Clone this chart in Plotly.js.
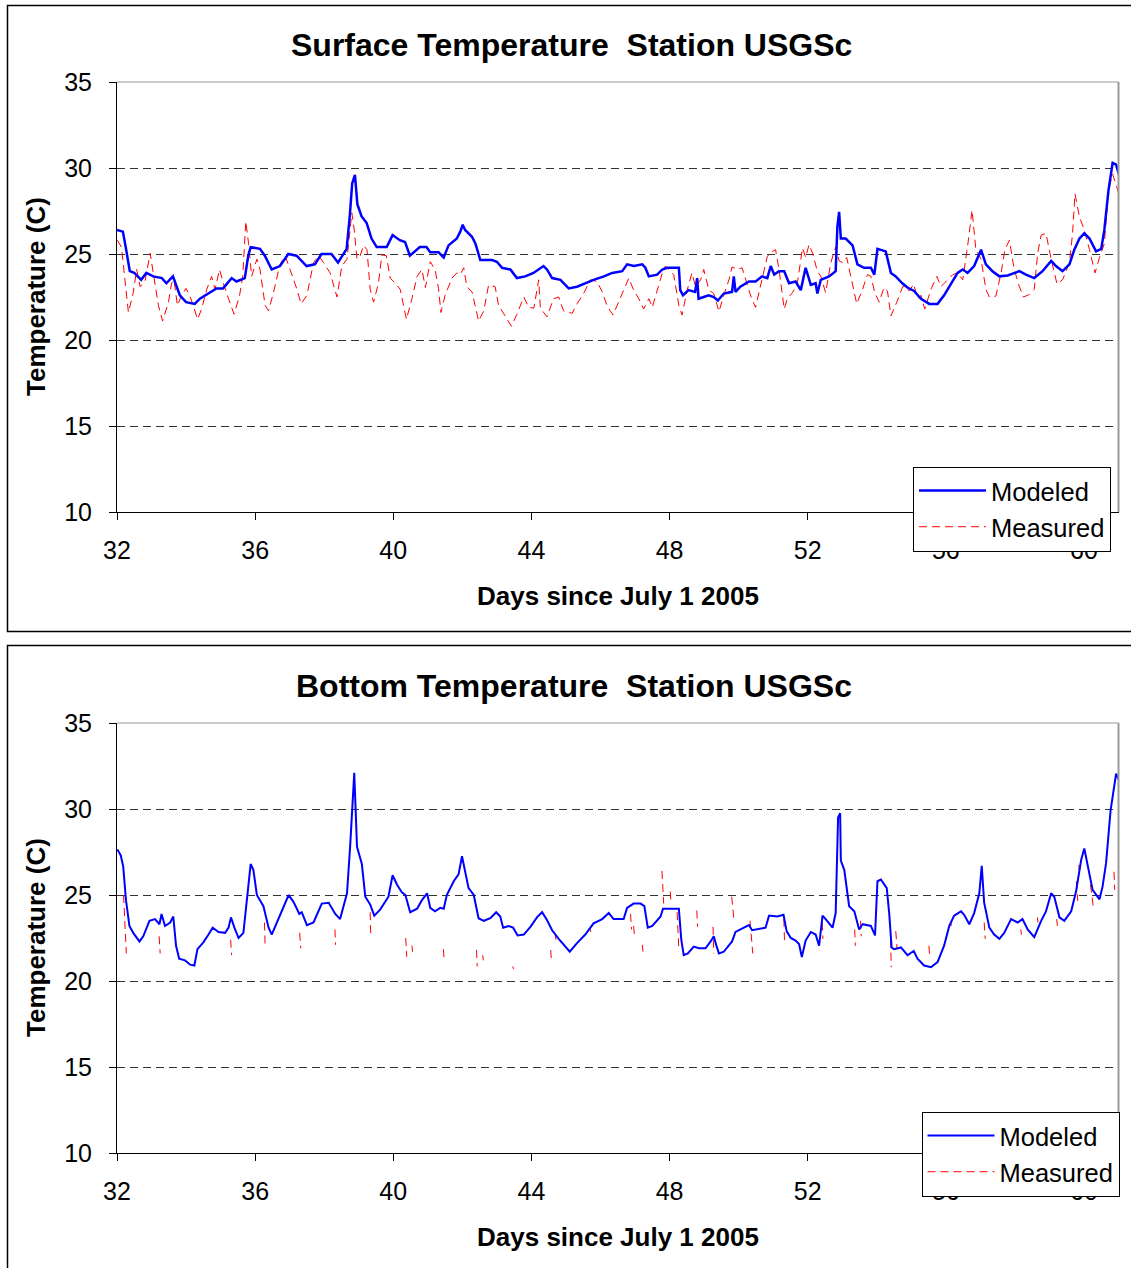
<!DOCTYPE html>
<html><head><meta charset="utf-8">
<script src="https://cdn.plot.ly/plotly-3.0.1.min.js"></script>
<style>html,body{margin:0;padding:0;background:#fff}#chart{width:1131px;height:1268px}</style>
</head><body><div id="chart"></div>
<script>
// ---------------- data ----------------
const xTickVals = [32, 36, 40, 44, 48, 52, 56, 60];
const xTickText = ['32', '36', '40', '44', '48', '52', '56', '60'];
const yTickVals = [10, 15, 20, 25, 30, 35];
const yTickText = ['10', '15', '20', '25', '30', '35'];
const seriesNames = ['Modeled', 'Measured'];

// Surface, modeled
const surfModDays = [32,32.17,32.27,32.37,32.5,32.7,32.85,33.05,33.3,33.43,33.62,33.82,34.0,34.25,34.4,34.7,34.88,35.07,35.32,35.46,35.7,35.8,35.87,36.14,36.28,36.48,36.72,36.96,37.2,37.49,37.73,37.92,38.21,38.4,38.65,38.74,38.81,38.89,38.96,39.08,39.23,39.37,39.52,39.81,39.98,40.19,40.34,40.48,40.77,40.96,
41.07,41.31,41.46,41.6,41.84,41.94,42.01,42.08,42.28,42.38,42.52,42.86,43.0,43.15,43.39,43.58,43.82,44.06,44.26,44.35,44.45,44.6,44.84,45.08,45.32,45.56,45.8,46.1,46.34,46.63,46.77,46.97,47.21,47.3,47.4,47.64,47.79,47.93,48.27,48.31,48.39,48.55,48.74,48.8,48.84,48.99,49.13,49.28,49.4,49.57,49.81,49.86,49.91,50.05,50.3,50.49,50.68,50.83,
50.93,51.03,51.17,51.32,51.46,51.65,51.8,51.94,52.09,52.23,52.28,52.38,52.62,52.81,52.86,52.91,52.96,53.1,53.3,53.44,53.63,53.83,53.93,54.02,54.26,54.41,54.55,54.74,54.89,55.08,55.28,55.52,55.76,55.95,56.15,56.34,56.49,56.63,56.82,57.02,57.16,57.35,57.55,57.79,58.13,58.32,58.56,58.8,59.05,59.19,59.38,59.58,59.72,59.87,60.01,60.16,60.35,60.5,60.59,60.71,60.83,60.93,61.03];
const surfModeled = [26.4,26.3,25.2,24.0,23.9,23.5,23.9,23.7,23.6,23.3,23.7,22.6,22.2,22.1,22.4,22.8,23.0,23.0,23.6,23.4,23.6,24.9,25.4,25.3,24.9,24.1,24.3,25.0,24.9,24.3,24.4,25.0,25.0,24.5,25.3,27.2,29.1,29.6,27.9,27.2,26.8,25.9,25.4,25.4,26.1,25.8,25.7,24.9,25.4,25.4,
25.1,25.1,24.8,25.5,25.9,26.3,26.7,26.4,26.0,25.6,24.65,24.65,24.55,24.2,24.1,23.6,23.7,23.9,24.2,24.3,24.1,23.6,23.5,23.0,23.1,23.3,23.5,23.7,23.9,24.0,24.4,24.3,24.4,24.2,23.7,23.8,24.1,24.2,24.2,22.9,22.6,22.9,22.8,23.6,22.4,22.5,22.6,22.5,22.3,22.7,22.8,23.7,22.8,23.1,23.4,23.4,23.7,23.6,
24.3,23.8,24.0,24.0,23.3,23.4,22.9,24.2,23.2,23.3,22.7,23.5,23.7,24.0,26.6,27.45,25.9,25.9,25.5,24.4,24.2,24.2,23.8,25.3,25.15,23.9,23.7,23.3,23.05,22.85,22.4,22.1,22.1,22.6,23.3,23.9,24.1,23.9,24.3,25.25,24.4,24.0,23.7,23.75,24.0,23.8,23.6,24.0,24.6,24.3,24.0,24.4,25.25,25.9,26.2,25.9,25.15,25.3,26.4,28.7,30.3,30.2,29.5];

// Surface, measured
const surfMeasDays = [32.01,32.13,32.33,32.47,32.57,32.67,32.81,32.96,33.05,33.2,33.32,33.49,33.58,33.65,33.75,33.87,34.0,34.12,34.21,34.33,34.45,34.6,34.74,34.84,34.97,35.08,35.23,35.39,35.55,35.64,35.73,35.81,35.9,36.05,36.14,36.29,36.39,36.53,36.72,36.87,37.01,37.21,37.33,37.5,37.69,37.84,37.98,38.17,38.37,38.51,38.66,38.8,38.87,38.95,39.04,39.14,39.24,39.33,39.43,39.57,39.67,39.8,39.91,40.06,40.2,40.38,40.54,40.69,40.83,40.93,
41.07,41.21,41.31,41.38,41.5,41.7,41.84,41.94,42.04,42.13,42.28,42.47,42.62,42.76,42.95,43.05,43.24,43.42,43.58,43.78,43.92,44.07,44.21,44.26,44.45,44.64,44.79,44.93,45.18,45.32,45.51,45.71,45.9,46.05,46.19,46.36,46.48,46.63,46.82,46.96,47.11,47.25,47.4,47.5,47.64,47.79,47.88,48.01,48.12,48.27,48.36,48.51,48.65,48.75,48.9,48.99,49.14,49.28,49.43,49.57,49.72,49.81,49.96,50.1,50.25,50.36,50.49,50.59,50.73,50.83,
50.93,51.07,51.17,51.32,51.41,51.56,51.7,51.85,51.94,52.04,52.14,52.28,52.38,52.52,52.67,52.81,52.91,53.01,53.13,53.25,53.42,53.59,53.73,53.83,53.95,54.07,54.21,54.31,54.41,54.58,54.75,54.84,54.94,55.07,55.18,55.28,55.39,55.57,55.74,55.86,56.0,56.2,56.34,56.49,56.63,56.76,56.87,57.02,57.16,57.26,57.45,57.6,57.71,57.84,57.98,58.13,58.25,58.42,58.56,58.66,58.76,58.9,59.05,59.22,59.38,59.58,59.67,59.74,59.87,60.01,60.16,60.32,60.45,60.59,60.71,60.83,60.98,61.08];
const surfMeasured = [25.8,25.4,21.6,22.75,24.1,23.1,23.4,25.05,23.9,22.0,21.1,22.2,23.3,23.5,22.0,22.6,23.0,22.5,22.0,21.2,21.8,22.95,23.7,22.95,24.1,23.3,22.4,21.5,22.6,23.7,26.9,25.6,23.7,24.7,24.1,22.0,21.7,22.75,24.4,24.9,24.1,22.95,22.1,22.6,24.5,24.9,24.5,23.9,22.5,24.3,24.7,27.4,26.4,24.7,24.9,25.5,25.25,22.95,22.2,23.3,24.95,24.9,23.6,23.3,22.95,21.2,22.4,23.7,24.1,23.05,
24.55,24.1,23.0,21.6,22.6,23.6,23.9,23.8,24.2,23.1,22.8,21.1,21.7,23.2,23.1,22.0,21.4,20.8,21.5,22.5,21.9,21.85,23.5,21.85,21.35,22.4,22.5,21.7,21.55,22.1,22.7,23.5,23.4,22.8,22.0,21.45,22.0,22.7,23.6,22.9,22.4,21.8,22.4,21.9,22.9,23.9,24.3,24.0,23.8,22.0,21.45,22.9,23.9,23.1,23.5,24.1,22.9,22.7,21.65,22.6,23.5,24.25,24.1,24.2,23.2,22.5,21.9,22.8,24.1,24.85,
25.1,25.25,24.1,21.8,22.4,22.75,23.3,25.35,24.8,25.55,25.05,24.0,23.7,22.75,24.5,25.4,24.6,24.5,24.8,23.6,22.1,22.95,23.8,23.7,22.7,22.2,23.05,22.85,21.4,22.2,23.1,23.1,22.85,23.25,22.4,22.6,21.8,22.95,23.7,23.1,23.4,23.8,23.9,23.5,25.45,27.55,25.25,24.7,22.95,22.5,22.55,23.9,25.25,25.8,24.1,23.1,22.5,22.65,22.95,25.05,26.1,26.2,24.7,23.25,23.5,24.5,26.2,28.5,27.15,26.4,25.25,23.9,24.8,25.6,28.7,29.65,28.7,27.75];

// Bottom, modeled
const botModDays = [32.01,32.11,32.18,32.26,32.36,32.47,32.65,32.76,32.94,33.1,33.23,33.29,33.39,33.54,33.63,33.71,33.8,33.97,34.12,34.24,34.33,34.5,34.65,34.77,34.94,35.13,35.23,35.3,35.4,35.52,35.66,35.76,35.87,35.95,36.05,36.24,36.39,36.48,36.63,36.8,36.97,37.11,37.28,37.35,37.5,37.69,37.93,38.13,38.32,38.46,38.66,38.75,38.87,38.95,39.09,39.19,39.33,39.45,39.62,39.86,39.98,40.11,40.25,40.35,40.49,40.69,40.83,40.98,
41.07,41.21,41.36,41.46,41.55,41.75,41.89,41.99,42.08,42.18,42.33,42.47,42.62,42.81,42.98,43.1,43.18,43.34,43.47,43.6,43.78,43.97,44.16,44.31,44.45,44.6,44.79,44.93,45.11,45.32,45.56,45.8,46.05,46.24,46.38,46.67,46.77,46.96,47.16,47.27,47.37,47.5,47.74,47.81,48.27,48.34,48.41,48.53,48.7,48.85,49.04,49.19,49.28,49.35,49.43,49.57,49.81,49.91,50.15,50.3,50.39,50.59,50.78,50.88,
50.93,51.12,51.3,51.39,51.51,51.65,51.75,51.83,51.94,52.09,52.23,52.33,52.43,52.52,52.72,52.81,52.88,52.94,52.96,53.06,53.2,53.35,53.49,53.59,53.83,53.95,54.02,54.12,54.29,54.36,54.43,54.5,54.7,54.89,55.07,55.18,55.37,55.57,55.76,55.95,56.1,56.24,56.44,56.53,56.68,56.82,56.97,57.04,57.11,57.26,57.4,57.55,57.69,57.89,58.08,58.22,58.37,58.56,58.76,58.9,59.05,59.14,59.29,59.43,59.63,59.77,59.92,60.01,60.11,60.25,60.45,60.54,60.64,60.77,60.93,61.03,61.08];
const botModeled = [27.65,27.3,26.65,24.7,23.2,22.8,22.3,22.6,23.5,23.6,23.3,23.9,23.2,23.4,23.75,22.05,21.3,21.2,20.95,20.9,21.85,22.25,22.7,23.1,22.85,22.8,23.1,23.7,23.1,22.5,22.8,24.7,26.8,26.45,25.0,24.35,23.1,22.7,23.4,24.25,25.0,24.6,23.9,24.0,23.25,23.4,24.5,24.55,23.9,23.6,25.1,27.8,32.1,27.8,26.8,24.9,24.45,23.8,24.15,24.9,26.15,25.6,25.15,25.0,24.0,24.2,24.7,25.1,
24.25,24.05,24.25,24.2,25.0,25.8,26.2,27.25,26.3,25.4,25.0,23.65,23.5,23.65,24.0,23.75,23.1,23.2,23.1,22.65,22.7,23.15,23.7,24.0,23.55,22.95,22.45,22.1,21.7,22.2,22.7,23.35,23.6,23.95,23.6,23.6,24.25,24.5,24.5,24.35,23.1,23.2,23.75,24.2,24.2,22.4,21.5,21.6,22.0,21.9,21.9,22.3,22.6,22.1,21.6,21.7,22.3,22.85,23.1,23.25,22.95,23.05,23.1,23.8,
23.8,23.75,23.85,22.9,22.5,22.35,22.15,21.4,22.35,22.85,22.7,22.05,23.8,23.6,23.1,23.95,29.5,29.75,27.0,26.45,24.35,24.05,23.0,23.3,23.2,22.65,25.8,25.9,25.4,23.95,21.95,21.85,21.95,21.5,21.75,21.3,20.9,20.8,21.1,22.05,23.2,23.8,24.05,23.85,23.3,23.95,25.1,26.7,24.55,23.1,22.7,22.45,22.8,23.6,23.4,23.6,23.0,22.55,23.5,24.05,25.1,24.9,23.7,23.5,24.05,25.2,27.05,27.7,26.65,25.3,24.75,25.5,26.85,29.9,32.05,31.6,30.6];

// Bottom, measured (only short pieces are visible; gaps are null)
const botMeasDays = [32.19,32.23,32.27,null,33.22,33.25,null,35.29,35.32,null,36.27,36.29,null,37.29,37.32,null,38.31,38.33,null,39.33,39.35,null,40.36,40.39,null,40.54,40.56,null,41.45,41.47,null,42.41,42.43,null,42.59,42.61,null,43.46,43.48,null,44.56,44.58,null,44.69,44.71,null,45.71,45.72,null,46.87,46.9,null,46.96,46.98,null,47.21,47.23,null,47.78,47.83,null,48.02,48.04,null,48.22,48.27,null,48.79,48.81,null,49.26,49.28,null,49.8,49.87,null,50.33,50.41,null,51.31,51.33,null,52.42,52.44,null,53.36,53.38,null,53.53,53.55,null,54.4,54.42,null,54.55,54.59,null,55.51,55.53,null,56.14,56.16,null,57.11,57.14,null,58.17,58.19,null,58.65,58.67,null,59.21,59.23,null,59.78,59.82,null,59.85,59.87,null,60.19,60.28,null,60.87,60.89];
const botMeasured = [25.0,23.6,21.6,null,22.6,21.6,null,22.4,21.5,null,23.4,22.0,null,22.8,21.9,null,23.0,22.1,null,24.0,22.5,null,22.5,21.4,null,22.05,21.7,null,21.85,21.35,null,21.8,20.85,null,21.5,21.2,null,20.85,20.7,null,21.8,21.1,null,22.65,22.4,null,23.0,22.85,null,23.9,23.0,null,23.2,22.7,null,22.1,21.7,null,26.4,24.5,null,25.2,24.6,null,24.0,21.8,null,24.1,23.15,null,23.15,21.6,null,24.9,23.45,null,23.5,21.6,null,23.6,22.25,null,23.4,22.45,null,23.0,22.05,null,23.5,22.6,null,22.4,20.8,null,22.9,21.85,null,22.05,21.5,null,23.4,23.2,null,23.4,22.45,null,23.0,22.7,null,23.7,23.4,null,23.6,23.2,null,25.8,24.65,null,26.75,26.3,null,25.6,24.15,null,26.35,25.3];

// ---------------- layout helpers ----------------
const W = 1131, H = 1268;
const px = x => x / W;
const py = y => 1 - y / H;
const FONT = '"Liberation Sans", Arial, Helvetica, sans-serif';
const PL = 117, PR = 1118.5;
const panels = [
  {title: 'Surface Temperature \u00A0Station USGSc', titleX: 571.5, titleY: 45, top: 82, bottom: 512, box: [5.5, 631.5], legY: 466.5, legX: 913},
  {title: 'Bottom Temperature \u00A0Station USGSc', titleX: 574, titleY: 686, top: 723, bottom: 1153, box: [645.5, 1290], legY: 1111.5, legX: 921.5}
];

function xAxis(anchor) {
  return {domain: [px(PL), px(PR)], range: [32, 61], anchor: anchor,
    tickmode: 'array', tickvals: xTickVals, ticktext: xTickText,
    ticks: 'outside', ticklen: 7, tickwidth: 1, tickcolor: '#000',
    showline: true, linecolor: '#000', linewidth: 1, showgrid: false, zeroline: false,
    tickfont: {family: FONT, size: 25, color: '#000'}, ticklabelstandoff: 9, fixedrange: true};
}
function yAxis(anchor, p) {
  return {domain: [py(p.bottom), py(p.top)], range: [10, 35], anchor: anchor,
    tickmode: 'array', tickvals: yTickVals, ticktext: yTickText,
    ticks: 'outside', ticklen: 7, tickwidth: 1, tickcolor: '#000',
    showline: true, linecolor: '#000', linewidth: 1, zeroline: false,
    showgrid: true, gridcolor: '#333', gridwidth: 1, griddash: '8px,5px',
    tickfont: {family: FONT, size: 25, color: '#000'}, ticklabelstandoff: 12, fixedrange: true};
}
function legendCfg(p) {
  return {x: px(p.legX), y: py(p.legY), xanchor: 'left', yanchor: 'top',
    bgcolor: '#fff', bordercolor: '#000', borderwidth: 1,
    font: {family: FONT, size: 25.5, color: '#000'}, itemwidth: 67,
    traceorder: 'grouped', tracegroupgap: 0};
}

const traces = [
  {x: surfMeasDays, y: surfMeasured, name: seriesNames[1], xaxis: 'x', yaxis: 'y', mode: 'lines',
   line: {color: '#ff0000', width: 1, dash: '8px,5px'}, legend: 'legend', legendgroup: 'm1', legendrank: 2},
  {x: surfModDays, y: surfModeled, name: seriesNames[0], xaxis: 'x', yaxis: 'y', mode: 'lines',
   line: {color: '#0000ff', width: 2.5}, legend: 'legend', legendgroup: 'a1', legendrank: 1},
  {x: botMeasDays, y: botMeasured, name: seriesNames[1], xaxis: 'x2', yaxis: 'y2', mode: 'lines', connectgaps: false,
   line: {color: '#ff0000', width: 1, dash: '8px,5px'}, legend: 'legend2', legendgroup: 'm2', legendrank: 2},
  {x: botModDays, y: botModeled, name: seriesNames[0], xaxis: 'x2', yaxis: 'y2', mode: 'lines',
   line: {color: '#0000ff', width: 2}, legend: 'legend2', legendgroup: 'a2', legendrank: 1}
];

const shapes = [];
const annotations = [];
panels.forEach(p => {
  shapes.push({type: 'rect', xref: 'paper', yref: 'paper', x0: px(7.5), x1: px(1150), y0: py(p.box[0]), y1: py(p.box[1]),
    line: {color: '#000', width: 1.5}, fillcolor: 'rgba(0,0,0,0)'});
  shapes.push({type: 'line', xref: 'paper', yref: 'paper', x0: px(PL), x1: px(PR), y0: py(p.top), y1: py(p.top),
    line: {color: '#9a9a9a', width: 1}});
  shapes.push({type: 'line', xref: 'paper', yref: 'paper', x0: px(PR), x1: px(PR), y0: py(p.top), y1: py(p.bottom),
    line: {color: '#9a9a9a', width: 2}});
  annotations.push({text: '<b>' + p.title + '</b>', xref: 'paper', yref: 'paper', x: px(p.titleX), y: py(p.titleY),
    xanchor: 'center', yanchor: 'middle', showarrow: false, font: {family: FONT, size: 32, color: '#000'}});
  annotations.push({text: '<b>Days since July 1 2005</b>', xref: 'paper', yref: 'paper', x: px(618), y: py(p.bottom + 84),
    xanchor: 'center', yanchor: 'middle', showarrow: false, font: {family: FONT, size: 26, color: '#000'}});
  annotations.push({text: '<b>Temperature (C)</b>', xref: 'paper', yref: 'paper', x: px(36), y: py((p.top + p.bottom) / 2),
    xanchor: 'center', yanchor: 'middle', textangle: -90, showarrow: false, font: {family: FONT, size: 26, color: '#000'}});
});

const layout = {
  width: W, height: H, margin: {l: 0, r: 0, t: 0, b: 0},
  paper_bgcolor: '#fff', plot_bgcolor: '#fff',
  font: {family: FONT, color: '#000'},
  showlegend: true,
  xaxis: xAxis('y'), yaxis: yAxis('x', panels[0]),
  xaxis2: xAxis('y2'), yaxis2: yAxis('x2', panels[1]),
  legend: legendCfg(panels[0]), legend2: legendCfg(panels[1]),
  shapes: shapes, annotations: annotations
};

Plotly.newPlot('chart', traces, layout, {staticPlot: true, displayModeBar: false});
</script></body></html>
